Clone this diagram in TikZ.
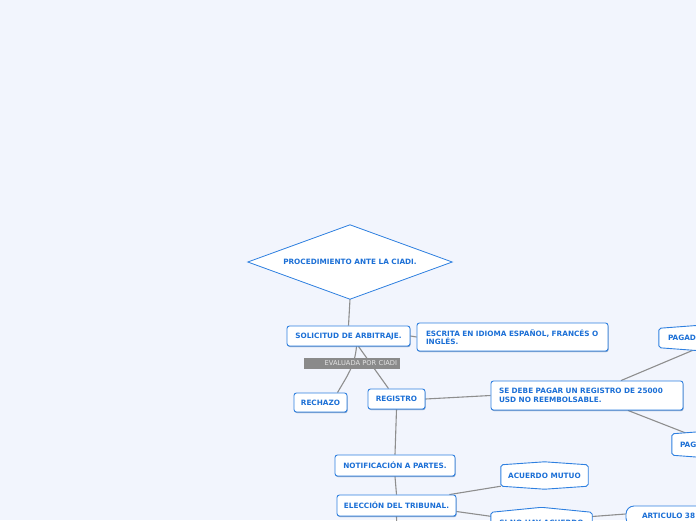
\documentclass[tikz,border=0pt]{standalone}
\usepackage{fontspec}
\setmainfont{DejaVu Sans}
\usetikzlibrary{shadows}
\definecolor{bgc}{HTML}{F2F5FD}
\definecolor{nodeblue}{HTML}{2F80E0}
\definecolor{txtblue}{HTML}{1B6FD6}
\definecolor{linegray}{HTML}{8E8E8E}
\definecolor{labelgray}{HTML}{8A8A8A}
\definecolor{labeltext}{HTML}{E4E4E4}
\pgfdeclarelayer{bg}\pgfdeclarelayer{edges}\pgfdeclarelayer{shapes}
\pgfsetlayers{bg,edges,shapes,main}
\begin{document}
\begin{tikzpicture}[x=1pt,y=-1pt,
  tfont/.style={font=\bfseries\fontsize{7.3}{8.4}\selectfont, text depth=0pt},
  topic/.style={tfont, draw=nodeblue, line width=0.9pt, fill=white, rounded corners=2.5pt,
     text=txtblue, inner sep=0pt,
     drop shadow={shadow xshift=0.6pt, shadow yshift=-1.1pt, fill=nodeblue!70!black, opacity=0.55}},
  multi/.style={text depth={}, align=left},
  hexnode/.style={tfont, text=txtblue, inner sep=0pt},
  hexline/.style={draw=nodeblue, line width=0.9pt, fill=white, rounded corners=2pt},
  conn/.style={draw=linegray, line width=1.1pt},
  lbl/.style={fill=labelgray, text=labeltext, font=\fontsize{6.7}{7}\selectfont, text depth=0pt,
     minimum width=96pt, minimum height=11pt, inner xsep=3pt, inner ysep=0pt, text width=90pt, align=right}
]
\useasboundingbox (0,0) rectangle (696,520);
\begin{pgfonlayer}{bg}
  \fill[bgc] (0,0) rectangle (696,520);
\end{pgfonlayer}

% nodes
\node[hexnode, minimum width=204pt, minimum height=74pt] (dia) at (350,262) {PROCEDIMIENTO ANTE LA CIADI.};
\node[topic, minimum width=123pt, minimum height=20pt] (sol) at (348.5,336) {SOLICITUD DE ARBITRAJE.};
\node[topic, multi, minimum width=191pt, minimum height=28pt, text width=173pt] (esc) at (512.5,337)
  {ESCRITA EN IDIOMA ESPAÑOL, FRANCÉS O\\INGLÉS.};
\node[topic, minimum width=53pt, minimum height=19pt] (rech) at (320.5,402.5) {RECHAZO};
\node[topic, minimum width=57pt, minimum height=20pt] (reg) at (396.5,399) {REGISTRO};
\node[topic, multi, minimum width=192pt, minimum height=29pt, text width=176pt] (pagar) at (587,395.5)
  {SE DEBE PAGAR UN REGISTRO DE 25000\\USD NO REEMBOLSABLE.};
\node[hexnode, minimum width=80pt, minimum height=19pt, text width=62pt, align=left] (pag1) at (699,338) {PAGADO};
\node[hexnode, minimum width=80pt, minimum height=21pt, text width=64pt, align=left] (pag2) at (712,444.5) {PAGADO};
\node[topic, minimum width=120pt, minimum height=21pt] (notif) at (395,465.5) {NOTIFICACIÓN A PARTES.};
\node[topic, minimum width=119pt, minimum height=21pt] (elec) at (396.5,505.5) {ELECCIÓN DEL TRIBUNAL.};
\node[hexnode, minimum width=87pt, minimum height=21pt] (am) at (544.5,475.5) {ACUERDO MUTUO};
\node[hexnode, minimum width=101pt, minimum height=20pt] (sinohay) at (541.5,522.5) {SI NO HAY ACUERDO};
\node[topic, rounded corners=8pt, minimum width=110pt, minimum height=20pt, text width=78pt, inner xsep=16pt, align=left] (art) at (681,516) {ARTICULO 38};
\coordinate (elecdown) at (397,535);

% custom shapes
\begin{pgfonlayer}{shapes}
  \draw[draw=nodeblue, line width=0.8pt, fill=white] (dia.north) -- (dia.east) -- (dia.south) -- (dia.west) -- cycle;
  \draw[hexline] (am.north west) -- ([yshift=3pt]am.north) -- (am.north east) -- (am.south east) -- ([yshift=-3pt]am.south) -- (am.south west) -- cycle;
  \draw[hexline] (sinohay.north west) -- ([yshift=5pt]sinohay.north) -- (sinohay.north east) -- (sinohay.south east) -- ([yshift=-3pt]sinohay.south) -- (sinohay.south west) -- cycle;
  \draw[hexline] (pag1.north west) -- ([yshift=3pt]pag1.north) -- (pag1.north east) -- (pag1.south east) -- ([yshift=-3pt]pag1.south) -- (pag1.south west) -- cycle;
  \draw[hexline] (pag2.north west) -- ([yshift=3pt]pag2.north) -- (pag2.north east) -- (pag2.south east) -- ([yshift=-3pt]pag2.south) -- (pag2.south west) -- cycle;
\end{pgfonlayer}

% connectors
\begin{pgfonlayer}{edges}
  \draw[conn] (dia.south) -- (sol.north);
  \draw[conn] (sol.east) -- (esc.west);
  \draw[conn] ([xshift=8pt]sol.south) to[out=-95,in=60] ([xshift=17pt]rech.north);
  \draw[conn] ([xshift=10pt]sol.south) -- ([xshift=-8pt]reg.north);
  \draw[conn] (reg.east) -- (pagar.west);
  \draw[conn] ([xshift=34pt]pagar.north) -- (pag1.south);
  \draw[conn] ([xshift=41pt]pagar.south) -- ([xshift=16pt]pag2.north west);
  \draw[conn] (reg.south) -- (notif.north);
  \draw[conn] (notif.south) -- (elec.north);
  \draw[conn] (elec.south) -- (elecdown);
  \draw[conn] ([xshift=-7pt]elec.north east) -- (am.south west);
  \draw[conn] ([yshift=-6pt]elec.east) -- ([yshift=-4pt]sinohay.north west);
  \draw[conn] ([yshift=6pt]sinohay.east) -- ([yshift=2pt]art.west);
\end{pgfonlayer}

\node[lbl] (eval) at (352,363.5) {EVALUADA POR CIADI};
\end{tikzpicture}
\end{document}
